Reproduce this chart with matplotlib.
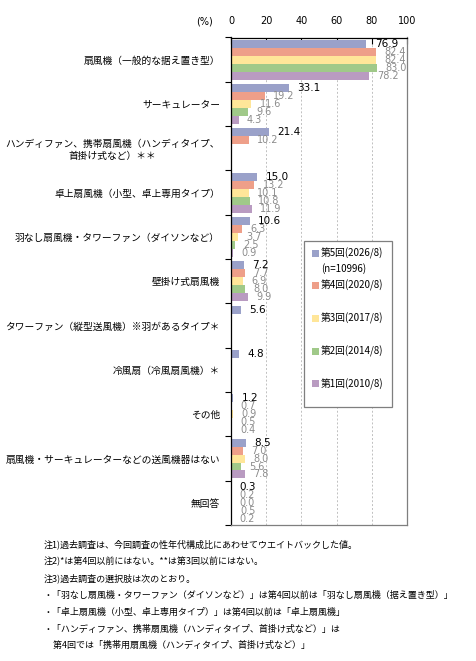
import numpy as np
import matplotlib
matplotlib.use('Agg')
import matplotlib.pyplot as plt
from matplotlib.patches import Rectangle

plt.rcParams['font.family'] = ['Noto Sans CJK JP', 'DejaVu Sans']

# データ
categories = [
    '扇風機（一般的な据え置き型）',
    'サーキュレーター',
    'ハンディファン、携帯扇風機（ハンディタイプ、\n首掛け式など）＊＊',
    '卓上扇風機（小型、卓上専用タイプ）',
    '羽なし扇風機・タワーファン（ダイソンなど）',
    '壁掛け式扇風機',
    'タワーファン（縦型送風機）※羽があるタイプ＊',
    '冷風扇（冷風扇風機）＊',
    'その他',
    '扇風機・サーキュレーターなどの送風機器はない',
    '無回答',
]
series_names = ['第5回(2026/8)', '第4回(2020/8)', '第3回(2017/8)', '第2回(2014/8)', '第1回(2010/8)']
n_label = '(n=10996)'
r5 = [76.9, 33.1, 21.4, 15.0, 10.6, 7.2, 5.6, 4.8, 1.2, 8.5, 0.3]
r4 = [82.4, 19.2, 10.2, 13.2, 6.3, 7.7, None, None, 0.7, 7.0, 0.2]
r3 = [82.4, 11.6, None, 10.1, 3.7, 6.9, None, None, 0.9, 8.0, 0.0]
r2 = [83.0, 9.6, None, 10.8, 2.5, 8.0, None, None, 0.5, 5.6, 0.5]
r1 = [78.2, 4.3, None, 11.9, 0.9, 9.9, None, None, 0.4, 7.8, 0.2]
series = [r5, r4, r3, r2, r1]
colors = ['#9AA1C9', '#EE9F89', '#FFE699', '#A0C989', '#B99BC1']
xticks = [0, 20, 40, 60, 80, 100]

notes = [
    '注1)過去調査は、今回調査の性年代構成比にあわせてウエイトバックした値。',
    '注2)*は第4回以前にはない。**は第3回以前にはない。',
    '注3)過去調査の選択肢は次のとおり。',
    '・「羽なし扇風機・タワーファン（ダイソンなど）」は第4回以前は「羽なし扇風機（据え置き型）」',
    '・「卓上扇風機（小型、卓上専用タイプ）」は第4回以前は「卓上扇風機」',
    '・「ハンディファン、携帯扇風機（ハンディタイプ、首掛け式など）」は',
    '　第4回では「携帯用扇風機（ハンディタイプ、首掛け式など）」',
]

W, H = 477, 661
fig = plt.figure(figsize=(W / 100, H / 100), dpi=100)


def fx(px):
    return px / W


def fy(py):
    return 1 - py / H


ax_l, ax_r, ax_t, ax_b = 231, 407, 37.5, 525
ax = fig.add_axes([fx(ax_l), fy(ax_b), fx(ax_r - ax_l), (ax_b - ax_t) / H])

n = len(categories)
idx = np.arange(n)
bh = 0.18
for j, vals in enumerate(series):
    ys = [i + (j - 2) * bh for i, v in enumerate(vals) if v is not None]
    vs = [v for v in vals if v is not None]
    ax.barh(ys, vs, height=bh, color=colors[j], zorder=2)
    for y, v in zip(ys, vs):
        ax.annotate(f'{v:.1f}', (v, y), xytext=(6, 0), textcoords='offset points',
                    va='center', ha='left', family='DejaVu Sans',
                    fontsize=7.5 if j == 0 else 7,
                    color='black' if j == 0 else '#8C8C8C', zorder=3)

ax.set_xlim(0, 100)
ax.set_ylim(n - 0.5, -0.5)
ax.set_xticks(xticks)
ax.xaxis.tick_top()
ax.tick_params(axis='x', direction='in', length=4, width=0.8, pad=8, labelsize=7)
for lab in ax.get_xticklabels():
    lab.set_fontfamily('DejaVu Sans')
ax.xaxis.grid(True, color='#C0C0C0', linestyle=(0, (2, 2)), linewidth=0.7)
ax.set_axisbelow(True)

ax.set_yticks(idx)
ax.set_yticklabels(categories, fontsize=7)
for lab in ax.get_yticklabels():
    lab.set_multialignment('center')
ax.tick_params(axis='y', which='major', length=0, pad=8)
ax.set_yticks(np.arange(-0.5, n, 1), minor=True)
ax.tick_params(axis='y', which='minor', direction='out', length=4, width=0.8, color='black')

for s in ['left', 'top']:
    ax.spines[s].set_color('black')
    ax.spines[s].set_linewidth(0.9)
for s in ['right', 'bottom']:
    ax.spines[s].set_color('#7F7F7F')
    ax.spines[s].set_linewidth(0.9)

fig.text(fx(205), fy(21), '(%)', ha='center', va='center', fontsize=7, family='DejaVu Sans')

# 凡例
fig.add_artist(Rectangle((fx(304), fy(407)), fx(392 - 304), (407 - 241) / H,
                         transform=fig.transFigure, facecolor='white',
                         edgecolor='#7F7F7F', linewidth=0.9, zorder=5))
leg_y = [253, 285, 318, 351, 384]
for j, name in enumerate(series_names):
    fig.add_artist(Rectangle((fx(312), fy(leg_y[j] + 3.5)), fx(7), 7 / H,
                             transform=fig.transFigure, facecolor=colors[j],
                             edgecolor='none', zorder=6))
    fig.text(fx(321), fy(leg_y[j]), name, ha='left', va='center', fontsize=7, zorder=7)
fig.text(fx(321), fy(269), n_label, ha='left', va='center', fontsize=7, zorder=7)

# 注記
note_y = [544, 561, 578, 595, 612, 629, 645]
for t, y in zip(notes, note_y):
    fig.text(fx(44), fy(y), t, ha='left', va='center', fontsize=6.5)

fig.savefig('out.png', dpi=100)
